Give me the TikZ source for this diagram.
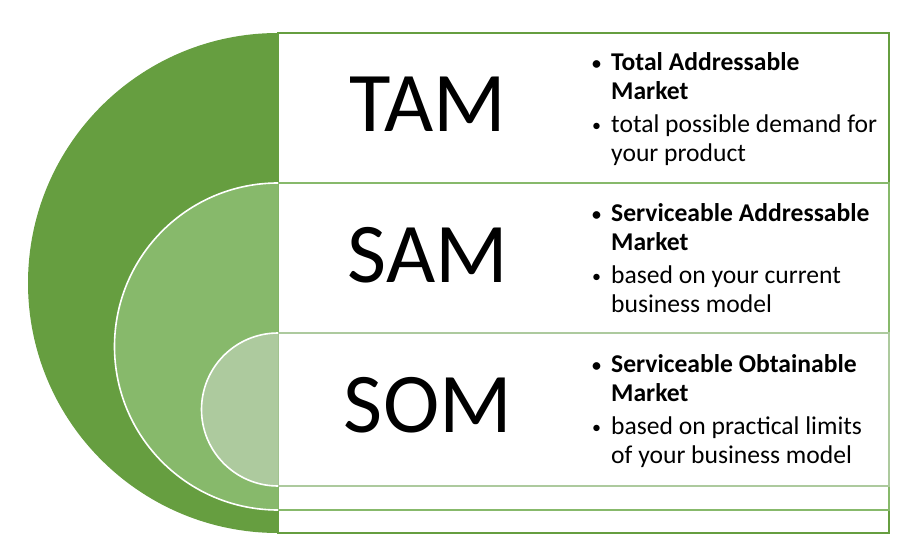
\documentclass[tikz,border=0pt]{standalone}
\usepackage{fontspec}
\setmainfont{Carlito}
\usepackage{tikz}

\definecolor{tamgreen}{HTML}{669E40}
\definecolor{samgreen}{HTML}{87B96B}
\definecolor{somgreen}{HTML}{ADCA9E}

\newcommand{\bitem}[1]{\makebox[19pt][l]{\raisebox{1pt}{\fontsize{18}{18}\selectfont\textbullet}}#1}
\newcommand{\bcont}[1]{\hspace*{19pt}#1}

\begin{document}
\begin{tikzpicture}[
    x=1pt, y=-1pt,
    frame/.style={line width=1.8pt},
    disc/.style={draw=white, line width=1.6pt},
    big/.style={font=\fontsize{85}{85}\selectfont, anchor=center, inner sep=0pt},
    blurb/.style={anchor=north west, align=left, inner sep=0pt, font=\fontsize{25.6}{29}\selectfont}
]

    % canvas
    \useasboundingbox (0,0) rectangle (897,553);

    % Frames
    \draw[frame, tamgreen] (278,33) rectangle (889,533);
    \draw[frame, samgreen] (278,183) rectangle (889,510);
    \draw[frame, somgreen] (278,333) rectangle (889,486);

    % Half discs
    \fill[tamgreen] (278,33) arc (270:90:250) -- cycle;
    \fill[samgreen] (278,183) arc (270:90:163.5) -- cycle;
    \draw[disc] (278,183) arc (270:90:163.5);
    \fill[somgreen] (278,333) arc (270:90:76.5) -- cycle;
    \draw[disc] (278,333) arc (270:90:76.5);

    % Big labels
    \node[big] (tam) at (428,104) {TAM};
    \node[big] (sam) at (428,255) {SAM};
    \node[big] (som) at (428,405) {SOM};

    % Descriptions
    \node[blurb] (tamtext) at (592,52) {%
        \textbf{\bitem{Total Addressable}}\\
        \textbf{\bcont{Market}}\\[4pt]
        \bitem{total possible demand for}\\
        \bcont{your product}};
    \node[blurb] (samtext) at (592,203) {%
        \textbf{\bitem{Serviceable Addressable}}\\
        \textbf{\bcont{Market}}\\[4pt]
        \bitem{based on your current}\\
        \bcont{business model}};
    \node[blurb] (somtext) at (592,354) {%
        \textbf{\bitem{Serviceable Obtainable}}\\
        \textbf{\bcont{Market}}\\[4pt]
        \bitem{based on practical limits}\\
        \bcont{of your business model}};

\end{tikzpicture}
\end{document}
